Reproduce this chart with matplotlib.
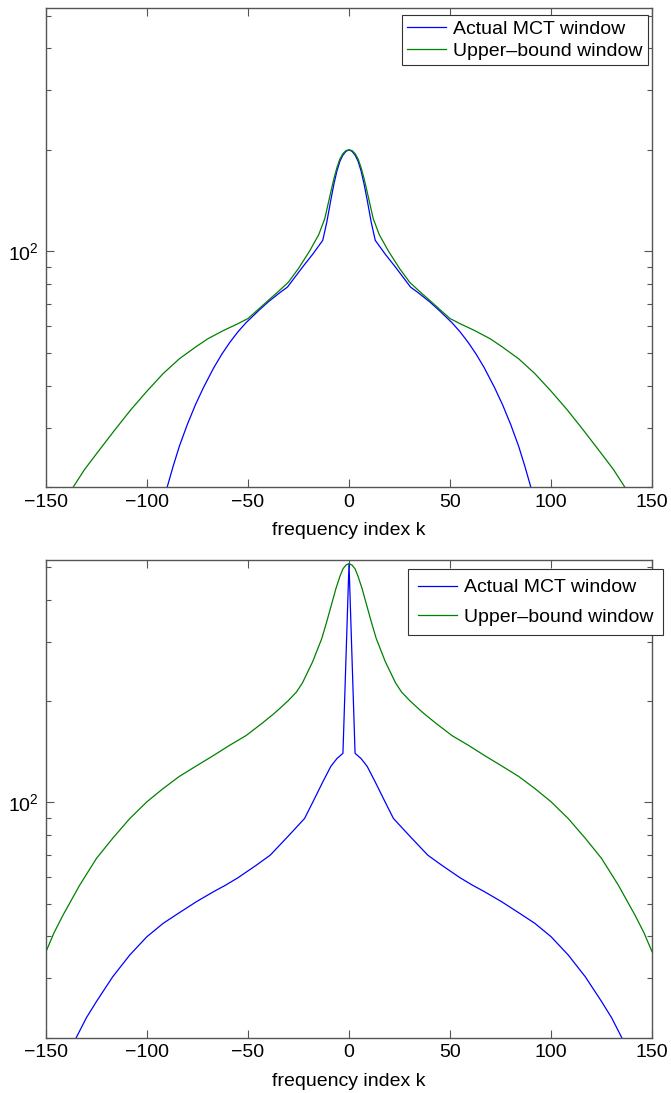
import matplotlib

matplotlib.use("Agg")
import matplotlib.pyplot as plt  # noqa: E402
from matplotlib.ticker import FixedLocator, LogFormatterSciNotation, NullFormatter  # noqa: E402

plt.rcParams["font.family"] = ["Liberation Sans", "DejaVu Sans"]
plt.rcParams["mathtext.default"] = "regular"

BLUE = "#0000ff"
GREEN = "#008000"
AXIS_GREY = "#555555"

# top panel: actual MCT window vs upper bound, frequency index k
k_top_actual = [-93, -90, -87, -84, -80, -76, -72, -67, -63, -59, -55, -51, -45, -40, -34,
                -30.5, -23, -18, -13, -11, -9, -7.5, -6, -4.5, -3, -1.5, 0,
                1.5, 3, 4.5, 6, 7.5, 9, 11, 13, 18, 23, 30.5, 34, 40, 45, 51, 55, 59, 63,
                67, 72, 76, 80, 84, 87, 90, 93]
top_actual = [17.1, 20, 23.1, 26.4, 30.7, 35.1, 39.5, 45.1, 49.5, 53.7, 57.7, 61.4, 66.5,
              70.8, 75.6, 78.3, 89.8, 98, 107.8, 122, 142, 158, 173, 185, 193, 198, 200,
              198, 193, 185, 173, 158, 142, 122, 107.8, 98, 89.8, 78.3, 75.6, 70.8, 66.5,
              61.4, 57.7, 53.7, 49.5, 45.1, 39.5, 35.1, 30.7, 26.4, 23.1, 20, 17.1]

k_top_bound = [-140, -136.5, -131, -125, -116, -108, -100, -92, -84, -76, -70, -62, -55, -50,
               -45, -40, -35, -30, -25, -19.6, -15, -12, -9, -7.5, -6, -4.5, -3, -1.5, 0,
               1.5, 3, 4.5, 6, 7.5, 9, 12, 15, 19.6, 25, 30, 35, 40, 45, 50, 55, 62, 70, 76,
               84, 92, 100, 108, 116, 125, 131, 136.5, 140]
top_bound = [17.8, 20, 22.5, 25.1, 29.5, 33.9, 38.5, 43.4, 48, 52, 55, 58.3, 61, 63.2, 67.2,
             71.5, 76, 81, 89, 100, 112, 125, 150, 164, 177, 188, 195, 199, 200,
             199, 195, 188, 177, 164, 150, 125, 112, 100, 89, 81, 76, 71.5, 67.2, 63.2, 61,
             58.3, 55, 52, 48, 43.4, 38.5, 33.9, 29.5, 25.1, 22.5, 20, 17.8]

# bottom panel
k_bot_actual = [-137, -135, -130, -125, -117, -108.5, -100, -92, -84, -75.5, -67, -61, -55,
                -46, -39, -30, -22, -18, -13, -9, -6, -3, 0, 3, 6, 9, 13, 18, 22, 30, 39, 46,
                55, 61, 67, 75.5, 84, 92, 100, 108.5, 117, 125, 130, 135, 137]
bot_actual = [18.7, 20, 22.9, 25.6, 30.3, 35.2, 39.9, 43.7, 47.0, 50.7, 54.3, 56.8, 59.7, 65,
              69.7, 79.5, 89.6, 100, 115, 128, 135, 140, 513, 140, 135, 128, 115, 100, 89.6,
              79.5, 69.7, 65, 59.7, 56.8, 54.3, 50.7, 47.0, 43.7, 39.9, 35.2, 30.3, 25.6,
              22.9, 20, 18.7]

k_bot_bound = [-150, -146, -141.6, -133.3, -125, -117, -108.5, -100, -92, -84, -75.5, -67,
               -59, -51, -43, -37, -34, -30, -26, -23, -18, -13.5, -11, -6.5, -4.5, -3, -1.5,
               0, 1.5, 3, 4.5, 6.5, 11, 13.5, 18, 23, 26, 30, 34, 37, 43, 51, 59, 67, 75.5,
               84, 92, 100, 108.5, 117, 125, 133.3, 141.6, 146, 150]
bot_bound = [36, 41, 46.2, 56.8, 68.2, 78.2, 89.6, 100.5, 110, 119.5, 128.5, 138, 148, 158,
             172, 184, 191, 201, 213, 227, 262, 307, 345, 432, 470, 495, 508, 513,
             508, 495, 470, 432, 345, 307, 262, 227, 213, 201, 191, 184, 172, 158, 148, 138,
             128.5, 119.5, 110, 100.5, 89.6, 78.2, 68.2, 56.8, 46.2, 41, 36]

x_ticks = [-150, -100, -50, 0, 50, 100, 150]
labels = ["Actual MCT window", "Upper\u2013bound window"]

W, H = 671, 1093
FS = 14


def style_axes(ax):
    ax.set_yscale("log")
    ax.set_xlim(-150, 150)
    ax.set_ylim(20, 527)
    ax.xaxis.set_major_locator(FixedLocator(x_ticks))
    ax.yaxis.set_major_formatter(LogFormatterSciNotation())
    ax.yaxis.set_minor_formatter(NullFormatter())
    ax.tick_params(which="both", direction="in", top=True, right=True,
                   colors=AXIS_GREY, labelcolor="black", labelsize=FS, width=0.8)
    ax.tick_params(which="major", length=6, pad=5)
    ax.tick_params(which="minor", length=3.5)
    for sp in ax.spines.values():
        sp.set_color(AXIS_GREY)
        sp.set_linewidth(1.0)
    ax.set_xlabel("frequency index k", fontsize=FS, labelpad=8)


def panel(fig, rect, k_a, v_a, k_b, v_b, legend_corner, spacing, pad):
    ax = fig.add_axes(rect)
    ax.plot(k_a, v_a, color=BLUE, lw=0.9, label=labels[0])
    ax.plot(k_b, v_b, color=GREEN, lw=0.9, label=labels[1])
    style_axes(ax)
    leg = ax.legend(loc="upper right", bbox_to_anchor=legend_corner,
                    bbox_transform=fig.transFigure, borderaxespad=0, fontsize=FS,
                    fancybox=False, framealpha=1, edgecolor="#333333",
                    handlelength=2.0, handletextpad=0.35, labelspacing=spacing,
                    borderpad=pad)
    leg.get_frame().set_linewidth(0.8)
    return ax


fig = plt.figure(figsize=(W / 100, H / 100), dpi=100)
left, width = 46 / W, (652 - 46) / W
panel(fig, [left, 1 - 487 / H, width, (487 - 8) / H],
      k_top_actual, top_actual, k_top_bound, top_bound,
      (648 / W, 1 - 15 / H), 0.2, 0.28)
panel(fig, [left, 1 - 1037.5 / H, width, (1037.5 - 559.7) / H],
      k_bot_actual, bot_actual, k_bot_bound, bot_bound,
      (663 / W, 1 - 569 / H), 0.6, 0.5)

fig.savefig("out.png", dpi=100)
